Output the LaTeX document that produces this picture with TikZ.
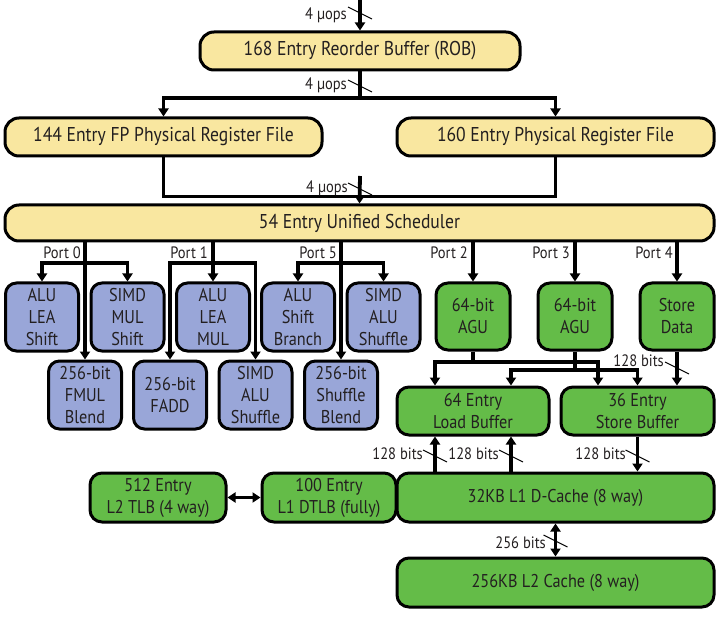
\documentclass[tikz,border=0pt]{standalone}
\usepackage{fontspec}
\setmainfont{PT Sans}[FakeStretch=0.88]
\usetikzlibrary{arrows.meta}
\definecolor{ylw}{RGB}{249,231,160}
\definecolor{blu}{RGB}{153,166,216}
\definecolor{grn}{RGB}{100,188,72}
\definecolor{ink}{RGB}{35,31,32}
\begin{document}
\begin{tikzpicture}[x=1pt,y=-1pt,
  box/.style={draw=black, line width=3pt, inner sep=0pt, align=center, text=ink},
  ybox/.style={box, fill=ylw, rounded corners=14pt, minimum height=38pt, font=\fontsize{20}{23}\selectfont},
  bbox/.style={box, fill=blu, rounded corners=11pt, minimum width=73pt, minimum height=68pt, font=\fontsize{18.5}{22}\selectfont},
  gbox/.style={box, fill=grn, rounded corners=12pt, font=\fontsize{18.5}{22}\selectfont},
  conn/.style={draw=black, line width=3.8pt},
  arr/.style={conn, -{Triangle[length=8pt,width=10pt]}},
  darr/.style={conn, {Triangle[length=8pt,width=10pt]}-{Triangle[length=8pt,width=10pt]}},
  slash/.style={draw=black, line width=1pt},
  lbl/.style={inner sep=0pt, anchor=east, text=ink, font=\fontsize{16.5}{18}\selectfont},
]
\useasboundingbox (0,0) rectangle (717,617);

% yellow boxes
\node[ybox, minimum width=320pt] (rob) at (360,51) {168 Entry Reorder Buffer (ROB)};
\node[ybox, minimum width=317pt] (fprf) at (163.5,137) {144 Entry FP Physical Register File};
\node[ybox, minimum width=317pt] (prf) at (555.5,137) {160 Entry Physical Register File};
\node[ybox, minimum width=709pt, minimum height=36pt] (sched) at (359.5,223) {54 Entry Unified Scheduler};

% blue boxes
\node[bbox] (b1) at (42,317) {ALU\\LEA\\Shift};
\node[bbox] (b2) at (127.5,317) {SIMD\\MUL\\Shift};
\node[bbox] (b3) at (213,317) {ALU\\LEA\\MUL};
\node[bbox] (b4) at (298,317) {ALU\\Shift\\Branch};
\node[bbox] (b5) at (383.5,317) {SIMD\\ALU\\Shuffle};
\node[bbox] (c1) at (85,395) {256-bit\\FMUL\\Blend};
\node[bbox] (c2) at (170,395) {256-bit\\FADD};
\node[bbox] (c3) at (255.5,395) {SIMD\\ALU\\Shuffle};
\node[bbox] (c4) at (341,395) {256-bit\\Shuffle\\Blend};

% green boxes
\node[gbox, minimum width=74pt, minimum height=67pt] (agu1) at (473,316.5) {64-bit\\AGU};
\node[gbox, minimum width=74pt, minimum height=67pt] (agu2) at (575,316.5) {64-bit\\AGU};
\node[gbox, minimum width=74pt, minimum height=67pt] (sd) at (677,316.5) {Store\\Data};
\node[gbox, minimum width=152pt, minimum height=48pt] (lb) at (473,411) {64 Entry\\Load Buffer};
\node[gbox, minimum width=153pt, minimum height=48pt] (sb) at (637.5,411) {36 Entry\\Store Buffer};
\node[gbox, minimum width=136pt, minimum height=49pt] (l2tlb) at (158,497.5) {512 Entry\\L2 TLB (4 way)};
\node[gbox, minimum width=134pt, minimum height=49pt] (dtlb) at (329,497.5) {100 Entry\\L1 DTLB (fully)};
\node[gbox, minimum width=317pt, minimum height=49pt] (dc) at (555.5,497.5) {32KB L1 D-Cache (8 way)};
\node[gbox, minimum width=317pt, minimum height=49pt] (l2) at (555.5,582.5) {256KB L2 Cache (8 way)};

% top
\coordinate (in) at (360,0);
\draw[arr] (in) -- (rob.north);
\coordinate (s1) at (360,13);
\draw[slash] (s1) ++(-12,-6) -- ++(24,12);
\node[lbl] (l1) at (347,15) {4 µops};

% ROB to register files
\coordinate (j1) at (360,98);
\draw[conn] (rob.south) -- (j1);
\draw[arr] (j1) -| (fprf.north);
\draw[arr] (j1) -| (prf.north);
\coordinate (s2) at (360,86);
\draw[slash] (s2) ++(-12,-6) -- ++(24,12);
\node[lbl] (l2l) at (347,85) {4 µops};

% register files to scheduler
\coordinate (j2) at (360,176);
\draw[conn] (fprf.south) -- ++(0,39) -| (prf.south);
\draw[arr] (j2) -- (sched.north);
\coordinate (s3) at (360,189);
\draw[slash] (s3) ++(-12,-6) -- ++(24,12);
\node[lbl] (l3) at (348,188) {4 µops};

% ports
\coordinate (p0) at (85,263);
\coordinate (p1) at (213,263);
\coordinate (p5) at (341,263);
\draw[arr] (sched.south -| c1.north) -- (c1.north);
\draw[arr] (p0) -| (b1.north);
\draw[arr] (p0) -| (b2.north);
\draw[arr] (sched.south -| b3.north) -- (b3.north);
\draw[arr] (p1) -| (c2.north);
\draw[arr] (p1) -| (c3.north);
\draw[arr] (sched.south -| c4.north) -- (c4.north);
\draw[arr] (p5) -| (b4.north);
\draw[arr] (p5) -| (b5.north);
\node[lbl] (pl0) at (81,253) {Port 0};
\node[lbl] (pl1) at (208,253) {Port 1};
\node[lbl] (pl5) at (337,253) {Port 5};

\draw[arr] (sched.south -| agu1.north) -- (agu1.north);
\draw[arr] (sched.south -| agu2.north) -- (agu2.north);
\draw[arr] (sched.south -| sd.north) -- (sd.north);
\node[lbl] (pl2) at (468,253) {Port 2};
\node[lbl] (pl3) at (570,253) {Port 3};
\node[lbl] (pl4) at (673,253) {Port 4};

% AGUs to buffers
\coordinate (xa) at (435,0);
\coordinate (xb) at (511,0);
\coordinate (xc) at (598,0);
\coordinate (a1) at (473,362);
\coordinate (a2) at (575,370);
\draw[conn] (agu1.south) -- (a1);
\draw[arr] (a1) -| (xa |- lb.north);
\draw[arr] (a1) -| (xc |- sb.north);
\draw[conn] (agu2.south) -- (a2);
\draw[arr] (a2) -| (xb |- lb.north);
\draw[arr] (a2) -| (sb.north);

% store data
\draw[arr] (sd.south) -- (sd.south |- sb.north);
\coordinate (s4) at (677,368);
\draw[slash] (s4) ++(-12,-6) -- ++(24,12);
\node[lbl] (l4) at (664,361) {128 bits};

% dcache and buffers
\draw[arr] (xa |- dc.north) -- (xa |- lb.south);
\draw[arr] (xb |- dc.north) -- (xb |- lb.south);
\draw[arr] (sb.south) -- (sb.south |- dc.north);
\coordinate (s5) at (435,456);
\coordinate (s6) at (511,456);
\coordinate (s7) at (637.5,456);
\draw[slash] (s5) ++(-12,-6) -- ++(24,12);
\draw[slash] (s6) ++(-12,-6) -- ++(24,12);
\draw[slash] (s7) ++(-12,-6) -- ++(24,12);
\node[lbl] (l5) at (423,454) {128 bits};
\node[lbl] (l6) at (499,454) {128 bits};
\node[lbl] (l7) at (626,454) {128 bits};

% TLBs
\draw[darr] (l2tlb.east) -- (dtlb.west);

% L2
\draw[darr] (dc.south) -- (l2.north);
\coordinate (s8) at (555.5,541);
\draw[slash] (s8) ++(-12,-6) -- ++(24,12);
\node[lbl] (l8) at (546,543) {256 bits};
\end{tikzpicture}
\end{document}
